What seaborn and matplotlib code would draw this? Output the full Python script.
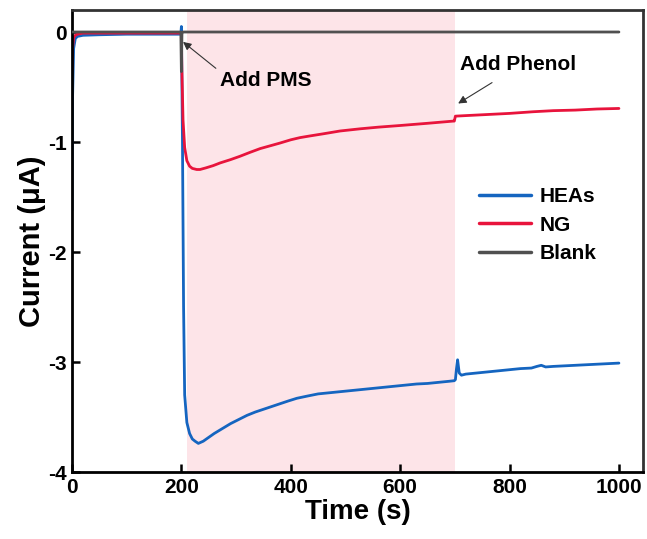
import numpy as np
import pandas as pd
import matplotlib
matplotlib.use("Agg")
import matplotlib.pyplot as plt
import seaborn as sns

# ---- data ----
t_heas = [0, 1, 3, 6, 10, 20, 50, 100, 150, 199, 200, 202, 204, 206, 210, 215, 220, 225, 231,
          240, 250, 260, 270, 280, 290, 300, 310, 320, 335, 350, 365, 380, 395, 411,
          430, 450, 470, 490, 510, 530, 550, 570, 590, 610, 630, 650, 670, 690, 699,
          701, 703, 705, 708, 712, 720, 740, 760, 780, 800, 820, 840, 850, 858, 866, 880, 900,
          920, 940, 960, 980, 1000]
i_heas = [-1.62, -0.60, -0.15, -0.06, -0.04, -0.03, -0.025, -0.02, -0.02, -0.02, 0.05, -1.00, -2.50, -3.30,
          -3.55, -3.65, -3.70, -3.72, -3.74, -3.72, -3.685, -3.65, -3.62, -3.59, -3.56, -3.535,
          -3.51, -3.485, -3.455, -3.43, -3.405, -3.38, -3.355, -3.33, -3.31, -3.29, -3.28,
          -3.27, -3.26, -3.25, -3.24, -3.23, -3.22, -3.21, -3.20, -3.195, -3.185, -3.175, -3.17,
          -3.16, -3.06, -2.98, -3.10, -3.12, -3.11, -3.10, -3.09, -3.08, -3.07, -3.06, -3.055,
          -3.04, -3.03, -3.045, -3.04, -3.035, -3.03, -3.025, -3.02, -3.015, -3.01]

t_ng = [0, 1, 3, 6, 10, 20, 50, 100, 150, 199, 200, 201, 203, 206, 210, 215, 220, 228, 234,
        245, 258, 271, 290, 307, 325, 344, 362, 380, 400, 417, 435, 460, 490, 527, 560, 600,
        650, 697, 699, 701, 720, 760, 800, 843, 880, 920, 960, 1000]
i_ng = [-0.35, -0.15, -0.05, -0.03, -0.02, -0.01, -0.01, -0.01, -0.01, -0.01, -0.01, -0.36, -0.80,
        -1.05, -1.17, -1.22, -1.24, -1.25, -1.25, -1.235, -1.215, -1.19, -1.16, -1.13, -1.095,
        -1.06, -1.035, -1.01, -0.98, -0.96, -0.945, -0.925, -0.90, -0.88, -0.865, -0.85, -0.83,
        -0.81, -0.81, -0.765, -0.76, -0.75, -0.74, -0.725, -0.715, -0.71, -0.70, -0.695]

t_blank = [0, 100, 199, 200, 201, 202, 300, 500, 700, 900, 1000]
i_blank = [0.0, 0.0, 0.0, -0.36, -0.02, 0.0, 0.0, 0.0, 0.0, 0.0, 0.0]

series_names = ["HEAs", "NG", "Blank"]
colors = ["#1565c0", "#e8143c", "#505050"]
shade_span = [210, 700]
x_ticks = [0, 200, 400, 600, 800, 1000]
y_ticks = [0, -1, -2, -3, -4]

df = pd.concat([
    pd.DataFrame({"Time": t_heas, "Current": i_heas, "Sample": "HEAs"}),
    pd.DataFrame({"Time": t_ng, "Current": i_ng, "Sample": "NG"}),
    pd.DataFrame({"Time": t_blank, "Current": i_blank, "Sample": "Blank"}),
])

sns.set_theme(style="white")
plt.rcParams["font.family"] = ["Liberation Sans", "DejaVu Sans"]
plt.rcParams["font.weight"] = "bold"
plt.rcParams["text.color"] = "black"
plt.rcParams["axes.labelcolor"] = "black"
plt.rcParams["xtick.color"] = "black"
plt.rcParams["ytick.color"] = "black"

fig = plt.figure(figsize=(6.47, 5.39), dpi=100)
ax = fig.add_axes([72 / 647, 1 - 472 / 539, (643 - 72) / 647, (472 - 10) / 539])

ax.axvspan(shade_span[0], shade_span[1], color="#fde4e8", lw=0, zorder=0)

sns.lineplot(data=df, x="Time", y="Current", hue="Sample", hue_order=series_names,
             palette=dict(zip(series_names, colors)), lw=2.0, ax=ax, sort=False,
             estimator=None, legend=True)
for ln in ax.get_lines():
    if ln.get_color() == "#505050":
        ln.set_zorder(5)

ax.set_xlim(0, 1044)
ax.set_ylim(-4, 0.2)
ax.set_xticks(x_ticks)
ax.set_yticks(y_ticks)
ax.set_yticklabels([str(v) for v in y_ticks])
ax.tick_params(direction="in", length=6, width=1.8, labelsize=15, pad=4,
               bottom=True, left=True, top=False, right=False, colors="black")
for lab in ax.get_xticklabels() + ax.get_yticklabels():
    lab.set_fontweight("bold")
for s in ax.spines.values():
    s.set_linewidth(2.0)
    s.set_color("black")
ax.spines["right"].set_color("#333333")
ax.spines["top"].set_color("#333333")

ax.set_xlabel("Time (s)", fontsize=20, fontweight="bold", labelpad=2)
ax.set_ylabel("Current (μA)", fontsize=21, fontweight="bold", labelpad=1)

leg = ax.legend(loc="upper left", bbox_to_anchor=(0.68, 0.657), frameon=False,
                handlelength=2.5, handletextpad=0.4, labelspacing=0.45,
                prop={"weight": "bold", "size": 15})
for h in leg.get_lines():
    h.set_linewidth(2.5)

ax.annotate("Add PMS", xy=(270, -0.44), fontsize=15, fontweight="bold",
            va="center", ha="left")
ax.annotate("", xy=(203, -0.09), xytext=(263, -0.33),
            arrowprops=dict(arrowstyle="-|>", color="#333333", lw=0.8,
                            mutation_scale=12, shrinkA=0, shrinkB=0))
ax.annotate("Add Phenol", xy=(709, -0.30), fontsize=15, fontweight="bold",
            va="center", ha="left")
ax.annotate("", xy=(706, -0.65), xytext=(768, -0.46),
            arrowprops=dict(arrowstyle="-|>", color="#333333", lw=0.8,
                            mutation_scale=12, shrinkA=0, shrinkB=0))

fig.savefig("out.png", dpi=100)
